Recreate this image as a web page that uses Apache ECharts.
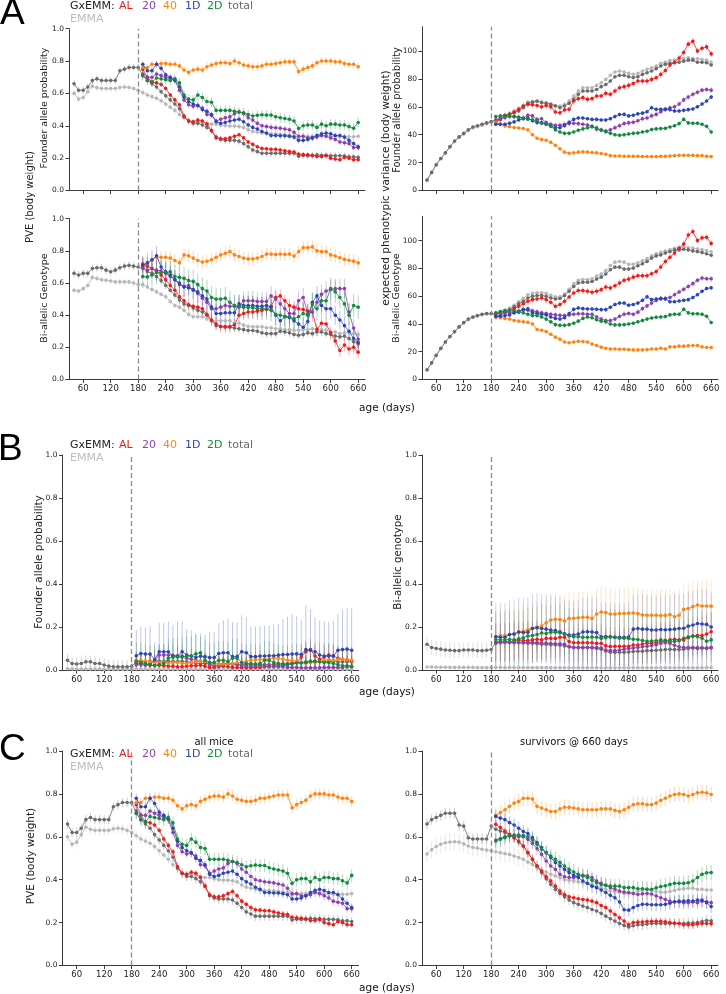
<!DOCTYPE html>
<html><head><meta charset="utf-8">
<script src="https://cdn.jsdelivr.net/npm/echarts@6/dist/echarts.min.js"></script>
<style>html,body{margin:0;padding:0;background:#fff}#c{width:726px;height:994px}</style>
</head><body><div id="c"></div><script>
// ---------------- ages ----------------
const agesPre = [40,50,60,70,80,90,100,110,120,130,140,150,160,170,180];
const agesPost = [190,200,210,220,230,240,250,260,270,280,290,300,310,320,330,340,350,360,370,380,390,400,410,420,430,440,450,460,470,480,490,500,510,520,530,540,550,560,570,580,590,600,610,620,630,640,650,660];
const xTicks = [60,120,180,240,300,360,420,480,540,600,660];
const pveTicks = [0,0.2,0.4,0.6,0.8,1.0];
const varTicks = [0,20,40,60,80,100];

// ---------------- PVE, founder allele probability (A top-left, C left) ----------------
const pveFA_AL = [0.75,0.70,0.67,0.665,0.655,0.63,0.59,0.56,0.53,0.46, 0.43,0.425,0.435,0.43,0.41,0.37,0.33,0.32,0.32,0.325, 0.335,0.345,0.325,0.30,0.285,0.27,0.26,0.258,0.255,0.255, 0.25,0.245,0.24,0.238,0.225,0.222,0.22,0.218,0.21,0.21, 0.215,0.20,0.195,0.19,0.205,0.20,0.19,0.19];
const pveFA_20 = [0.72,0.70,0.70,0.72,0.71,0.70,0.69,0.68,0.62,0.56, 0.53,0.52,0.525,0.51,0.47,0.465,0.43,0.44,0.45,0.455, 0.475,0.485,0.475,0.45,0.435,0.415,0.40,0.395,0.39,0.388, 0.385,0.38,0.375,0.36,0.335,0.335,0.325,0.325,0.33,0.34, 0.335,0.325,0.315,0.30,0.295,0.29,0.265,0.265];
const pveFA_40 = [0.76,0.76,0.78,0.78,0.785,0.785,0.78,0.78,0.77,0.745, 0.73,0.745,0.75,0.745,0.765,0.775,0.785,0.79,0.79,0.785, 0.80,0.79,0.775,0.77,0.765,0.765,0.77,0.78,0.78,0.785, 0.79,0.795,0.795,0.795,0.735,0.75,0.76,0.77,0.79,0.80, 0.80,0.80,0.795,0.795,0.785,0.78,0.78,0.765];
const pveFA_1D = [0.78,0.74,0.74,0.78,0.755,0.715,0.70,0.685,0.64,0.58, 0.55,0.535,0.525,0.50,0.49,0.47,0.425,0.415,0.42,0.43, 0.435,0.44,0.425,0.405,0.39,0.38,0.365,0.355,0.34,0.34, 0.338,0.338,0.335,0.33,0.31,0.31,0.315,0.325,0.34,0.35, 0.355,0.35,0.34,0.34,0.33,0.31,0.29,0.27];
const pveFA_2D = [0.71,0.68,0.67,0.695,0.69,0.685,0.68,0.69,0.665,0.59, 0.565,0.56,0.59,0.575,0.55,0.545,0.495,0.495,0.495,0.495, 0.49,0.485,0.48,0.47,0.46,0.465,0.468,0.466,0.466,0.456, 0.45,0.445,0.44,0.43,0.383,0.40,0.405,0.405,0.39,0.41, 0.40,0.41,0.41,0.405,0.405,0.395,0.385,0.42];
const pveFA_total = [0.66,0.62,0.62,0.64,0.68,0.69,0.68,0.68,0.68,0.68,0.74,0.75,0.76,0.76,0.76, 0.71,0.68,0.66,0.64,0.61,0.585,0.56,0.535,0.505,0.455, 0.43,0.415,0.415,0.405,0.39,0.37,0.325,0.315,0.31,0.31, 0.31,0.305,0.29,0.27,0.25,0.24,0.23,0.23,0.23,0.23, 0.23,0.23,0.23,0.23,0.212,0.216,0.215,0.215,0.22,0.218, 0.218,0.215,0.215,0.215,0.213,0.208,0.208,0.205];
const pveFA_EMMA = [0.60,0.565,0.575,0.61,0.645,0.635,0.63,0.63,0.63,0.63,0.637,0.64,0.637,0.63,0.62, 0.605,0.59,0.58,0.57,0.555,0.535,0.515,0.495,0.47,0.45, 0.43,0.425,0.425,0.42,0.415,0.41,0.41,0.405,0.40,0.398, 0.398,0.395,0.39,0.375,0.365,0.36,0.355,0.352,0.35,0.35, 0.348,0.345,0.342,0.34,0.328,0.335,0.335,0.335,0.34,0.34, 0.34,0.335,0.333,0.332,0.332,0.332,0.332,0.335];

// ---------------- PVE, bi-allelic genotype (A bottom-left) ----------------
const pveBG_AL = [0.72,0.705,0.69,0.67,0.65,0.62,0.585,0.555,0.515,0.49, 0.465,0.455,0.45,0.44,0.405,0.37,0.345,0.33,0.33,0.33, 0.34,0.40,0.41,0.42,0.42,0.425,0.43,0.435,0.455,0.51, 0.52,0.49,0.46,0.45,0.44,0.435,0.425,0.42,0.31,0.35, 0.345,0.29,0.24,0.18,0.215,0.19,0.20,0.17];
const pveBG_20 = [0.70,0.68,0.69,0.68,0.675,0.66,0.64,0.62,0.59,0.58, 0.585,0.555,0.535,0.505,0.48,0.44,0.44,0.45,0.46,0.455, 0.455,0.45,0.49,0.49,0.49,0.485,0.485,0.485,0.52,0.50, 0.47,0.44,0.41,0.41,0.49,0.51,0.41,0.42,0.48,0.53, 0.55,0.56,0.565,0.565,0.565,0.42,0.32,0.25];
const pveBG_40 = [0.71,0.72,0.74,0.76,0.76,0.76,0.755,0.74,0.725,0.775, 0.77,0.755,0.74,0.73,0.735,0.745,0.76,0.775,0.785,0.795, 0.775,0.765,0.755,0.75,0.75,0.755,0.765,0.78,0.78,0.778, 0.78,0.778,0.78,0.768,0.795,0.82,0.82,0.825,0.80,0.795, 0.795,0.775,0.768,0.757,0.747,0.742,0.736,0.725];
const pveBG_1D = [0.71,0.725,0.745,0.77,0.70,0.67,0.65,0.62,0.60,0.575, 0.57,0.56,0.545,0.52,0.50,0.45,0.41,0.41,0.415,0.415, 0.415,0.47,0.46,0.46,0.46,0.455,0.455,0.46,0.45,0.40, 0.365,0.39,0.385,0.365,0.345,0.325,0.36,0.48,0.52,0.46, 0.44,0.44,0.40,0.37,0.335,0.30,0.255,0.23];
const pveBG_2D = [0.64,0.638,0.65,0.665,0.665,0.665,0.67,0.64,0.635,0.63, 0.615,0.61,0.59,0.565,0.55,0.51,0.50,0.50,0.505,0.48, 0.46,0.455,0.45,0.447,0.447,0.44,0.44,0.44,0.43,0.405, 0.40,0.393,0.39,0.378,0.39,0.41,0.40,0.47,0.44,0.49, 0.49,0.565,0.545,0.51,0.47,0.40,0.46,0.45];
const pveBG_total = [0.66,0.65,0.66,0.66,0.69,0.695,0.695,0.68,0.67,0.68,0.695,0.705,0.71,0.705,0.70, 0.69,0.67,0.66,0.64,0.615,0.585,0.555,0.525,0.495,0.47, 0.46,0.445,0.43,0.42,0.40,0.365,0.335,0.33,0.325,0.325, 0.32,0.315,0.31,0.305,0.305,0.30,0.29,0.285,0.285,0.285, 0.30,0.295,0.29,0.28,0.275,0.28,0.29,0.285,0.295,0.295, 0.285,0.28,0.27,0.265,0.27,0.255,0.235,0.22];
const pveBG_EMMA = [0.555,0.55,0.565,0.585,0.635,0.628,0.62,0.617,0.613,0.607,0.607,0.607,0.607,0.60,0.59, 0.59,0.575,0.56,0.545,0.53,0.515,0.485,0.46,0.45,0.43, 0.405,0.39,0.39,0.39,0.378,0.365,0.365,0.365,0.365,0.365, 0.35,0.35,0.338,0.33,0.328,0.328,0.328,0.322,0.322,0.316, 0.316,0.31,0.31,0.306,0.306,0.31,0.31,0.316,0.316,0.31, 0.306,0.295,0.295,0.285,0.29,0.29,0.285,0.28];

// ---------------- expected phenotypic variance, founder allele (A top-right) ----------------
const varFA_AL = [49,51,53,54.6,56.3,58.2,60.6,61.8,61.5,61, 60,61,60,56.3,55.8,57.8,58.2,64.2,65.9,66.6, 65.4,65.9,67.8,67.8,69.7,69,71.4,73.7,74.5,75.4, 76.8,78.5,78.5,78.5,79.7,80.9,83.3,86,90,92, 95,99,105,107,100,102,103,98];
const varFA_20 = [50.5,51.5,52.3,53,53,52.5,52,54,53.5,51, 51.5,48.7,47.5,46.8,46.8,47.5,48,48.2,48,47.5, 47,46,44,43.5,42.7,43.5,45,46.5,48,48.5, 49,50,51.5,52,53.5,54.6,56.5,58,59.4,60, 62,65,67,69,70.5,72,72.5,72];
const varFA_40 = [49,47.5,46.3,45.8,45.2,44.8,44.5,43.5,40,37.5, 36.5,36,34.5,32.5,30,27.5,26.7,27,27.5,27.7, 27.6,27.3,27,26.5,26,25,24.8,24.7,24.6,24.6, 24.5,24.5,24.4,24.4,24.3,24.3,24.5,24.5,24.8,25, 25.2,25.2,25.2,25.2,25,25,24.5,24.3];
const varFA_1D = [47.5,47.5,47.5,48.2,49.2,50.6,51.5,52,50,48.7, 48.2,47.5,46.3,45,45,46.5,49,51,52,52, 51.5,51,51,50.6,50.6,51.5,53,54.5,54.6,53.5, 54,55,55.5,56.5,59.4,58.2,58.2,58.5,58,57, 57,57.5,58,58.5,60,62,64.2,67];
const varFA_2D = [53,53.5,54,53.5,53,52.5,51.8,51.2,50.8,50, 48.8,48,46,43.5,42,41,41,42,43.2,44.2, 45,45.8,45,43.2,42.2,41,40,39.6,40,40.5, 41,41.3,42,42.5,43.8,44.2,44.4,44.6,45.5,46.5, 48,51,48.5,48.2,48.2,47.5,46,42];
const varFA_total = [7.5,13,18.5,23,27,31.5,35.5,38.5,41,43.5,45.5,46.5,47.5,48.5,49.5, 50.6,52,53.5,54.6,55.8,57,59.4,62.5,63.3,64, 63,62.5,61.8,60.6,59.4,60.6,62.5,65.4,69,71.4, 71.4,71.4,72.5,74.5,76,78.5,81.6,82.6,82.6,81.6, 81,81.6,83.3,84.5,85.7,87.4,89.3,90.5,91.2,91.6, 92,92.8,93.5,93.5,92,92,91.6,90];
const varFA_EMMA = [7.3,12.8,18.2,22.8,26.8,31,35,38,40.5,43,44.8,45.8,46.8,47.8,49, 50.5,52,54,55.4,57,58.7,61,63.5,64,64.2, 63.7,63,62,61,60.6,61.8,64.2,67.8,71.4,73.7, 73.7,73.7,75.4,77.3,79.7,82.6,85,85.7,85,84, 83.3,84,85.7,86.9,88,89.3,91.2,92,93.3,93.6, 94,94.7,95.2,94.7,94.5,94,93.5,92];

// ---------------- expected phenotypic variance, bi-allelic genotype (A bottom-right) ----------------
const varBG_AL = [45,46.5,48,49.5,51,52.7,54.5,56.3,57.5,58, 58.7,57.5,55.6,52.7,54,56.3,59.4,62.3,64,64, 63.5,62.8,63.5,64.7,66.6,65.9,67.5,69.5,71.4,72.3, 73.7,74.7,74.7,74.7,76.1,77.8,81,85,88,91, 94.5,97.5,104,106.5,100,102,102.4,98];
const varBG_20 = [47.5,47.8,48,48.3,48.5,49.3,50,51,49.5,48.7, 48,47.5,47,46.5,46.2,46,46.5,47,47.3,47.3, 47,47,45,43.5,42.5,42.5,43.5,45.5,47,47.5, 47,48.5,51,53,55,57,58,58.5,59,61, 63,65,67,69,71.5,73,72.5,72.5];
const varBG_40 = [45,44.5,44,43.5,42.5,42,41.5,41.2,40,36, 35.5,34.5,32.5,30.5,29,27,26.5,27,27.5,27.3, 27,25.5,24.5,23.3,22.5,22,22,21.8,21.8,21.5, 21.3,21.3,21.3,21.5,22,22,22.5,22,23.5,23.5, 24,24,24.2,24.5,24.5,23.5,23,23];
const varBG_1D = [45.5,45.5,46,46.5,48,48.5,50.5,50,48,47.5, 47,46.5,45,44,43.5,44.5,47.5,50.5,51.5,51, 50.8,50.8,50.6,50.3,50.3,52,54,55,55,53.5, 54,55,57,59.5,57.5,58,58.5,58,56,56, 56.5,57,57.5,59,61,63.5,65.5,66];
const varBG_2D = [48,49,49.5,49.5,49.5,49,48,47,46,46, 45,43.5,41.5,39.5,39,39,39.5,40.5,42,44, 45,44.5,43,42,41.5,40,39.3,39.3,39.5,40, 40.5,41.5,42.5,43.5,44.3,44.8,45,45.3,46.5,47, 47,50.5,48,47.3,47.3,47,45.5,41];
const varBG_total = [7,12,17.5,22.5,27,31,34.5,38,41,43.5,45,46,47,47.5,47.5, 46.8,48,49.2,50.4,52.3,54.6,56.3,58.7,59.9,60.4, 60.4,59.9,58.7,58,58.3,60.4,63.5,67,69.5,70, 70,70.6,72.3,73.7,76,79,80.9,80.9,79.5,79.5, 80.2,81.9,83.3,85,87.4,89,89.7,91,92.1,93.3, 93.3,93.8,93.3,92.6,92.1,91.4,90.5,89.5];
const varBG_EMMA = [6.8,11.8,17.2,22.2,26.7,30.8,34.3,37.7,40.6,43,44.6,45.7,46.6,47.2,47.3, 47,48.5,50,51.5,53.5,56,58.5,61,62,62.5, 62.5,62,60.6,59.5,59.5,61.5,65,69,71.4,72, 72,72.5,74.5,76,78.5,82,84.5,85,84.5,83, 83,84,85.5,87,89,90.5,91.5,92.5,93.5,94.5, 95,95.2,95,94.5,94,93.5,92.8,92];

// ---------------- B left: founder allele probability ----------------
const bFA_AL = [0.03,0.03,0.025,0.022,0.022,0.022,0.02,0.018,0.018,0.015, 0.015,0.018,0.02,0.02,0.022,0.018,0.012,0.012,0.015,0.018, 0.015,0.012,0.012,0.012,0.01,0.01,0.012,0.012,0.015,0.015, 0.018,0.02,0.02,0.025,0.03,0.035,0.06,0.085,0.095,0.065, 0.05,0.06,0.07,0.065,0.055,0.05,0.046,0.042];
const bFA_20 = [0.025,0.025,0.022,0.03,0.04,0.07,0.07,0.07,0.068,0.065, 0.065,0.055,0.05,0.045,0.04,0.035,0.025,0.02,0.02,0.025, 0.03,0.028,0.025,0.02,0.018,0.018,0.018,0.02,0.02,0.018, 0.015,0.015,0.015,0.012,0.012,0.012,0.01,0.01,0.01,0.01, 0.01,0.012,0.012,0.012,0.012,0.012,0.015,0.015];
const bFA_40 = [0.045,0.045,0.04,0.038,0.035,0.035,0.035,0.03,0.035,0.035, 0.03,0.03,0.035,0.04,0.04,0.04,0.035,0.03,0.028,0.028, 0.03,0.03,0.035,0.035,0.04,0.045,0.048,0.05,0.05,0.052, 0.055,0.055,0.05,0.045,0.045,0.04,0.035,0.03,0.035,0.035, 0.04,0.045,0.048,0.045,0.05,0.05,0.048,0.045];
const bFA_1D = [0.066,0.077,0.074,0.074,0.048,0.085,0.085,0.085,0.065,0.065, 0.085,0.07,0.065,0.058,0.064,0.062,0.058,0.058,0.077,0.08, 0.08,0.062,0.062,0.085,0.08,0.062,0.062,0.065,0.065,0.066, 0.066,0.069,0.072,0.072,0.074,0.075,0.072,0.095,0.092,0.085, 0.07,0.065,0.065,0.065,0.092,0.095,0.097,0.092];
const bFA_1D_err = [0.12,0.125,0.125,0.13,0.08,0.135,0.135,0.14,0.145,0.16, 0.14,0.12,0.12,0.11,0.09,0.1,0.12,0.12,0.14,0.15, 0.16,0.16,0.16,0.17,0.165,0.14,0.14,0.14,0.14,0.14, 0.145,0.145,0.165,0.175,0.185,0.175,0.16,0.205,0.19,0.16, 0.16,0.16,0.16,0.165,0.17,0.185,0.19,0.195];
const bFA_2D = [0.04,0.035,0.03,0.025,0.02,0.025,0.03,0.055,0.06,0.06, 0.06,0.065,0.065,0.075,0.08,0.045,0.035,0.035,0.045,0.045, 0.04,0.055,0.055,0.035,0.03,0.03,0.028,0.03,0.045,0.045, 0.035,0.03,0.025,0.025,0.028,0.032,0.032,0.035,0.04,0.04, 0.038,0.035,0.035,0.03,0.025,0.02,0.02,0.018];
const bFA_total = [0.045,0.03,0.028,0.03,0.038,0.038,0.03,0.03,0.023,0.018,0.015,0.015,0.015,0.015,0.018, 0.04,0.04,0.04,0.04,0.042,0.042,0.04,0.04,0.04,0.04, 0.04,0.038,0.035,0.032,0.03,0.03,0.028,0.028,0.028,0.03, 0.03,0.028,0.028,0.025,0.025,0.025,0.025,0.025,0.025,0.025, 0.025,0.028,0.03,0.03,0.032,0.035,0.035,0.038,0.04,0.04, 0.04,0.04,0.04,0.04,0.038,0.038,0.038,0.038];
const bFA_EMMA = [0.006,0.005,0.005,0.005,0.005,0.005,0.005,0.005,0.004,0.004,0.004,0.004,0.004,0.004,0.004, 0.005,0.005,0.004,0.004,0.004,0.004,0.004,0.004,0.004,0.004, 0.004,0.004,0.004,0.004,0.004,0.004,0.004,0.004,0.004,0.004, 0.004,0.004,0.004,0.004,0.004,0.004,0.004,0.004,0.004,0.004, 0.004,0.004,0.004,0.004,0.004,0.004,0.004,0.004,0.004,0.004, 0.004,0.004,0.004,0.004,0.004,0.004,0.004,0.004];

// ---------------- B right: bi-allelic genotype ----------------
const bBG_AL = [0.13,0.13,0.13,0.13,0.135,0.14,0.137,0.137,0.14,0.143, 0.14,0.147,0.147,0.147,0.152,0.152,0.132,0.127,0.127,0.127, 0.127,0.127,0.124,0.124,0.112,0.109,0.11,0.11,0.11,0.11, 0.116,0.116,0.121,0.124,0.124,0.127,0.132,0.134,0.14,0.143, 0.14,0.14,0.15,0.158,0.16,0.16,0.167,0.178];
const bBG_20 = [0.125,0.127,0.128,0.128,0.128,0.13,0.128,0.128,0.128,0.128, 0.125,0.125,0.123,0.122,0.122,0.12,0.108,0.105,0.105,0.105, 0.105,0.105,0.104,0.102,0.093,0.09,0.09,0.093,0.096,0.1, 0.102,0.105,0.108,0.11,0.114,0.118,0.124,0.127,0.124,0.115, 0.108,0.105,0.105,0.103,0.1,0.102,0.1,0.104];
const bBG_40 = [0.155,0.16,0.16,0.165,0.168,0.175,0.18,0.188,0.195,0.2, 0.205,0.22,0.232,0.236,0.235,0.228,0.24,0.241,0.243,0.245, 0.245,0.24,0.26,0.27,0.267,0.26,0.26,0.263,0.263,0.264, 0.265,0.262,0.256,0.255,0.255,0.255,0.253,0.254,0.258,0.248, 0.255,0.282,0.286,0.295,0.302,0.298,0.298,0.297];
const bBG_1D = [0.155,0.152,0.152,0.165,0.167,0.177,0.174,0.176,0.193,0.196, 0.193,0.19,0.186,0.183,0.178,0.168,0.163,0.163,0.167,0.177, 0.178,0.177,0.174,0.155,0.156,0.153,0.152,0.152,0.152,0.153, 0.19,0.193,0.19,0.19,0.186,0.186,0.188,0.187,0.188,0.19, 0.193,0.194,0.204,0.209,0.216,0.214,0.212,0.2];
const bBG_2D = [0.142,0.14,0.14,0.142,0.14,0.145,0.15,0.158,0.16,0.165, 0.172,0.17,0.176,0.176,0.173,0.167,0.158,0.155,0.155,0.152, 0.152,0.153,0.152,0.147,0.15,0.156,0.152,0.148,0.148,0.147, 0.143,0.142,0.137,0.133,0.135,0.136,0.14,0.138,0.133,0.133, 0.136,0.148,0.154,0.157,0.155,0.148,0.134,0.14];
const bBG_total = [0.12,0.105,0.1,0.097,0.093,0.092,0.09,0.09,0.093,0.093,0.093,0.09,0.09,0.092,0.095, 0.128,0.13,0.13,0.128,0.127,0.127,0.126,0.125,0.124,0.122, 0.12,0.12,0.118,0.117,0.115,0.112,0.108,0.105,0.104,0.104, 0.104,0.103,0.1,0.097,0.088,0.083,0.082,0.082,0.082,0.084, 0.086,0.087,0.087,0.09,0.09,0.092,0.093,0.095,0.096,0.095, 0.095,0.097,0.1,0.104,0.104,0.103,0.103,0.104];
const bBG_EMMA = [0.014,0.014,0.013,0.013,0.013,0.012,0.012,0.012,0.012,0.012,0.012,0.011,0.011,0.011,0.011, 0.012,0.012,0.011,0.011,0.011,0.011,0.011,0.011,0.011,0.011, 0.011,0.011,0.011,0.01,0.01,0.01,0.01,0.01,0.01,0.01, 0.01,0.01,0.01,0.01,0.01,0.01,0.01,0.01,0.01,0.01, 0.01,0.01,0.01,0.01,0.01,0.01,0.01,0.01,0.01,0.01, 0.01,0.01,0.01,0.01,0.01,0.01,0.011,0.011];

// ---------------- C right: survivors @ 660 days ----------------
const surv_AL = [0.658,0.643,0.627,0.612,0.596,0.576,0.557,0.526,0.495,0.464, 0.44,0.414,0.394,0.37,0.347,0.331,0.32,0.316,0.311,0.308, 0.305,0.30,0.293,0.28,0.27,0.254,0.238,0.222,0.207,0.19, 0.20,0.202,0.203,0.205,0.206,0.206,0.206,0.204,0.20,0.198, 0.196,0.19,0.19,0.19,0.194,0.196,0.196,0.195];
const surv_20 = [0.585,0.592,0.60,0.605,0.605,0.60,0.60,0.588,0.57,0.545, 0.518,0.487,0.464,0.448,0.425,0.414,0.41,0.41,0.417,0.42, 0.418,0.41,0.394,0.383,0.374,0.363,0.355,0.347,0.342,0.34, 0.336,0.331,0.334,0.336,0.333,0.324,0.316,0.308,0.30,0.296, 0.296,0.293,0.293,0.296,0.293,0.30,0.297,0.293];
const surv_40 = [0.70,0.713,0.726,0.742,0.757,0.765,0.78,0.78,0.776,0.742, 0.734,0.726,0.718,0.718,0.73,0.738,0.737,0.734,0.73,0.726, 0.726,0.726,0.726,0.73,0.73,0.73,0.723,0.718,0.726,0.738, 0.75,0.754,0.754,0.75,0.75,0.757,0.77,0.78,0.79,0.797, 0.80,0.797,0.79,0.797,0.805,0.808,0.805,0.797];
const surv_1D = [0.695,0.687,0.68,0.666,0.655,0.64,0.625,0.615,0.596,0.573, 0.55,0.526,0.503,0.48,0.464,0.448,0.433,0.42,0.41,0.394, 0.383,0.37,0.363,0.352,0.34,0.327,0.316,0.296,0.26,0.258, 0.27,0.28,0.285,0.285,0.283,0.283,0.283,0.285,0.29,0.297, 0.30,0.30,0.302,0.30,0.305,0.305,0.293,0.275];
const surv_2D = [0.58,0.588,0.596,0.604,0.608,0.608,0.606,0.60,0.585,0.565, 0.542,0.526,0.51,0.495,0.48,0.464,0.448,0.436,0.425,0.417, 0.41,0.398,0.386,0.378,0.374,0.37,0.37,0.37,0.363,0.363, 0.363,0.358,0.358,0.355,0.355,0.362,0.368,0.372,0.378,0.383, 0.383,0.383,0.386,0.394,0.41,0.425,0.432,0.433];
const surv_total = [0.66,0.68,0.69,0.70,0.71,0.71,0.71,0.655,0.65,0.595,0.59,0.59,0.59,0.59,0.65, 0.635,0.627,0.62,0.608,0.596,0.58,0.557,0.526,0.495,0.464, 0.433,0.405,0.378,0.355,0.336,0.32,0.305,0.293,0.285,0.277, 0.27,0.261,0.254,0.243,0.23,0.218,0.207,0.196,0.187,0.18, 0.185,0.19,0.19,0.193,0.196,0.196,0.196,0.196,0.196,0.196, 0.196,0.196,0.198,0.198,0.2,0.205,0.21,0.208];
const surv_EMMA = [0.52,0.54,0.555,0.565,0.572,0.576,0.577,0.575,0.567,0.557,0.55,0.547,0.542,0.538,0.535, 0.53,0.526,0.521,0.518,0.51,0.503,0.495,0.482,0.471,0.456, 0.445,0.436,0.425,0.417,0.41,0.40,0.397,0.394,0.39,0.386, 0.383,0.378,0.37,0.363,0.355,0.347,0.343,0.34,0.338,0.336, 0.338,0.345,0.35,0.355,0.35,0.345,0.342,0.342,0.345,0.35, 0.355,0.357,0.36,0.36,0.355,0.355,0.352,0.352];

// ---------------- error bar half-widths ----------------
const errPveFA = {AL:0.015,'20':0.02,'40':0.025,'1D':0.02,'2D':0.03,total:0.022,EMMA:0.022};
const errPveBG = {AL:0.04,'20':0.06,'40':0.04,'1D':0.06,'2D':0.07,total:0.025,EMMA:0.02};
const errVarFA = {AL:2.5,'20':2,'40':1.2,'1D':1.5,'2D':1.5,total:1.2,EMMA:1.2};
const errVarBG = {AL:2.5,'20':2,'40':1.2,'1D':1.5,'2D':1.5,total:1.2,EMMA:1.2};
const errBFA = {AL:0.05,'20':0.05,'40':0.04,'1D':bFA_1D_err,'2D':0.09,total:0.03,EMMA:0.008};
const errBBG = {AL:0.09,'20':0.09,'40':0.12,'1D':0.16,'2D':0.13,total:0.035,EMMA:0.01};
const errSurv = {AL:0.02,'20':0.03,'40':0.035,'1D':0.03,'2D':0.035,total:0.025,EMMA:0.04};

// ---------------- styling ----------------
const COL = {AL:'#ee1b1b','20':'#8e3fae','40':'#ff8412','1D':'#2c45b5','2D':'#148a3c',total:'#6b6b6b',EMMA:'#b7b7b7'};
const ORDER = ['EMMA','total','AL','20','40','1D','2D'];
const FONT = 'DejaVu Sans';

function pack(o){ return {AL:o.AL,'20':o.p20,'40':o.p40,'1D':o.p1D,'2D':o.p2D,total:o.total,EMMA:o.EMMA}; }

const panels = [
 {left:69, top:28.7, h:161.8, ymax:1, yt:pveTicks, dec:1, xl:false, err:errPveFA, eo:0.33,
  d:pack({AL:pveFA_AL,p20:pveFA_20,p40:pveFA_40,p1D:pveFA_1D,p2D:pveFA_2D,total:pveFA_total,EMMA:pveFA_EMMA})},
 {left:422, top:26.7, h:163.8, ymax:117.5, yt:varTicks, dec:0, xl:false, err:errVarFA, eo:0.33,
  d:pack({AL:varFA_AL,p20:varFA_20,p40:varFA_40,p1D:varFA_1D,p2D:varFA_2D,total:varFA_total,EMMA:varFA_EMMA})},
 {left:69, top:218.7, h:160.8, ymax:1, yt:pveTicks, dec:1, xl:true, err:errPveBG, eo:0.33,
  d:pack({AL:pveBG_AL,p20:pveBG_20,p40:pveBG_40,p1D:pveBG_1D,p2D:pveBG_2D,total:pveBG_total,EMMA:pveBG_EMMA})},
 {left:422, top:216.3, h:163.2, ymax:117.5, yt:varTicks, dec:0, xl:true, err:errVarBG, eo:0.33,
  d:pack({AL:varBG_AL,p20:varBG_20,p40:varBG_40,p1D:varBG_1D,p2D:varBG_2D,total:varBG_total,EMMA:varBG_EMMA})},
 {left:62.5, top:455, h:215, ymax:1, yt:pveTicks, dec:1, xl:true, err:errBFA, eo:0.3,
  d:pack({AL:bFA_AL,p20:bFA_20,p40:bFA_40,p1D:bFA_1D,p2D:bFA_2D,total:bFA_total,EMMA:bFA_EMMA})},
 {left:422, top:455, h:215, ymax:1, yt:pveTicks, dec:1, xl:true, err:errBBG, eo:0.22,
  d:pack({AL:bBG_AL,p20:bBG_20,p40:bBG_40,p1D:bBG_1D,p2D:bBG_2D,total:bBG_total,EMMA:bBG_EMMA})},
 {left:62.5, top:751, h:214.5, ymax:1, yt:pveTicks, dec:1, xl:true, err:errPveFA, eo:0.33,
  d:pack({AL:pveFA_AL,p20:pveFA_20,p40:pveFA_40,p1D:pveFA_1D,p2D:pveFA_2D,total:pveFA_total,EMMA:pveFA_EMMA})},
 {left:422, top:751, h:214.5, ymax:1, yt:pveTicks, dec:1, xl:true, err:errSurv, eo:0.33,
  d:pack({AL:surv_AL,p20:surv_20,p40:surv_40,p1D:surv_1D,p2D:surv_2D,total:surv_total,EMMA:surv_EMMA})}
];

const XMIN = 29, XMAX = 675, PXDAY = 0.4583;
const grids=[], xAxes=[], yAxes=[], series=[];
const axisCol = '#3a3a3a';

panels.forEach((p, gi) => {
  grids.push({left:p.left, top:p.top, width:(XMAX-XMIN)*PXDAY, height:p.h, containLabel:false});
  xAxes.push({type:'value', gridIndex:gi, min:XMIN, max:XMAX,
    axisLine:{show:true, onZero:false, lineStyle:{color:axisCol, width:1}},
    axisTick:{show:true, length:3.5, customValues:xTicks, lineStyle:{color:axisCol, width:1}},
    axisLabel:{show:p.xl, customValues:xTicks, fontSize:8.5, color:'#222', margin:5, fontFamily:FONT},
    splitLine:{show:false}});
  yAxes.push({type:'value', gridIndex:gi, min:0, max:p.ymax,
    axisLine:{show:true, lineStyle:{color:axisCol, width:1}},
    axisTick:{show:true, length:3.5, customValues:p.yt, lineStyle:{color:axisCol, width:1}},
    axisLabel:{customValues:p.yt, fontSize:7.5, color:'#222', margin:5, fontFamily:FONT,
      formatter:v => Number(v).toFixed(p.dec)},
    splitLine:{show:false}});
  ORDER.forEach((k, si) => {
    const ages = (k==='total'||k==='EMMA') ? agesPre.concat(agesPost) : agesPost;
    const vals = p.d[k];
    const e = p.err[k];
    const eb = ages.map((a,i)=>{ const ev = Array.isArray(e)? e[i] : e; return [a, Math.max(0, vals[i]-ev), vals[i]+ev]; });
    const c = COL[k];
    const op = p.eo;
    series.push({type:'custom', xAxisIndex:gi, yAxisIndex:gi, silent:true, animation:false, z:1,
      renderItem:(params, api)=>{
        const a = api.coord([api.value(0), api.value(1)]);
        const b = api.coord([api.value(0), api.value(2)]);
        return {type:'line', shape:{x1:a[0], y1:a[1], x2:b[0], y2:b[1]}, style:{stroke:c, lineWidth:1, opacity:op}};
      },
      encode:{x:0, y:[1,2]}, data:eb});
    const s = {type:'line', xAxisIndex:gi, yAxisIndex:gi, silent:true, animation:false, z:3+si,
      data:ages.map((a,i)=>[a, vals[i]]), symbol:'circle', symbolSize:3.6, showSymbol:true,
      lineStyle:{color:c, width:0.8}, itemStyle:{color:c}};
    if (si===0) {
      s.markLine = {silent:true, symbol:'none', animation:false, label:{show:false},
        lineStyle:{color:'#8c8c8c', width:1.3, type:[5,3]}, data:[{xAxis:180}]};
    }
    series.push(s);
  });
});

// ---------------- text graphics ----------------
const G = [];
function txt(x, y, t, o){ G.push({type:'text', x, y, silent:true,
  style:Object.assign({text:t, fontFamily:FONT, fontSize:11, fill:'#222', textAlign:'left', textVerticalAlign:'middle'}, o||{})}); }
function vtxt(x, y, t, fs){ G.push({type:'text', x, y, rotation:Math.PI/2, silent:true,
  style:{text:t, fontFamily:FONT, fontSize:fs, fill:'#222', textAlign:'center', textVerticalAlign:'middle'}}); }
function legend(y){
  txt(70, y, 'GxEMM:', {fill:'#222'});
  txt(119, y, 'AL', {fill:COL.AL});
  txt(142, y, '20', {fill:COL['20']});
  txt(163, y, '40', {fill:COL['40']});
  txt(185, y, '1D', {fill:COL['1D']});
  txt(207, y, '2D', {fill:COL['2D']});
  txt(228, y, 'total', {fill:'#6b6b6b'});
  txt(70, y+13, 'EMMA', {fill:'#bdbdbd'});
}
legend(6); legend(445); legend(754);
txt(0, 14, 'A', {fontFamily:'Liberation Sans', fontSize:37, fill:'#000'});
txt(-2, 450, 'B', {fontFamily:'Liberation Sans', fontSize:37, fill:'#000'});
txt(-1, 750, 'C', {fontFamily:'Liberation Sans', fontSize:37, fill:'#000'});
txt(214, 742, 'all mice', {fontSize:10, textAlign:'center', fill:'#111'});
txt(574, 742, 'survivors @ 660 days', {fontSize:10, textAlign:'center', fill:'#111'});
txt(387, 408, 'age (days)', {fontSize:10.5, textAlign:'center', fill:'#111'});
txt(387, 692, 'age (days)', {fontSize:10.5, textAlign:'center', fill:'#111'});
txt(387, 988, 'age (days)', {fontSize:10.5, textAlign:'center', fill:'#111'});
vtxt(30, 197, 'PVE (body weight)', 10);
vtxt(45, 108, 'Founder allele probability', 9.5);
vtxt(45, 298, 'Bi-allelic Genotype', 9.5);
vtxt(386, 188, 'expected phenotypic variance (body weight)', 10.5);
vtxt(397, 110, 'Founder allele probability', 9.9);
vtxt(397, 298, 'Bi-allelic Genotype', 9.5);
vtxt(39, 562, 'Founder allele probability', 10.5);
vtxt(398, 562, 'Bi-allelic genotype', 10.3);
vtxt(31, 856, 'PVE (body weight)', 10.5);

const chart = echarts.init(document.getElementById('c'), null, {renderer:'canvas'});
chart.setOption({animation:false, backgroundColor:'#fff', grid:grids, xAxis:xAxes, yAxis:yAxes, series, graphic:G});
</script></body></html>
